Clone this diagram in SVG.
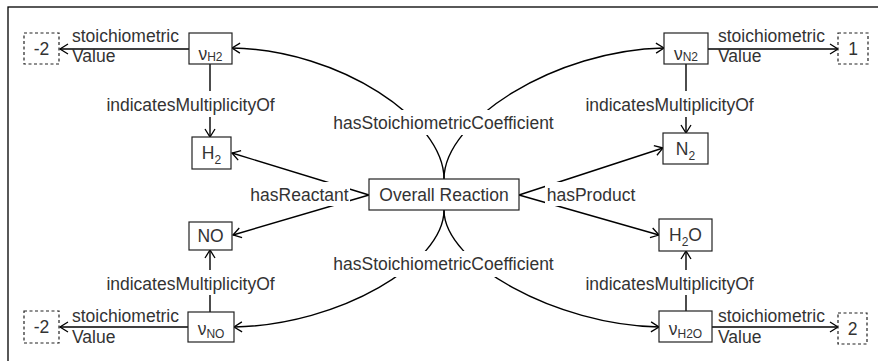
<svg xmlns="http://www.w3.org/2000/svg" width="878" height="361" viewBox="0 0 878 361">
<defs>
<marker id="arr" markerWidth="12" markerHeight="12" viewBox="-10 -6 12 12" refX="0" refY="0" orient="auto" markerUnits="userSpaceOnUse">
<path d="M-8,-5 L0,0 L-8,5" fill="none" stroke="#000" stroke-width="1.3"/>
</marker>
</defs>
<style>
text{font-family:"Liberation Sans",Arial,sans-serif;font-size:17.5px;fill:#333}
.sub{font-size:12px}
.node{fill:#fff;stroke:#222;stroke-width:1.2}
.dash{fill:#fff;stroke:#222;stroke-width:1.2;stroke-dasharray:3 2.5}
.edge{fill:none;stroke:#000;stroke-width:1.4;marker-end:url(#arr)}
.bg{fill:#fff}
.c{text-anchor:middle}
</style>
<rect x="8" y="7" width="900" height="400" fill="#fff" stroke="#000" stroke-width="1.3"/>
<g id="connectors">
<line class="edge" x1="189" y1="49" x2="60" y2="49"/>
<line class="edge" x1="210" y1="64" x2="210" y2="137"/>
<line class="edge" x1="708" y1="49" x2="838" y2="49"/>
<line class="edge" x1="686" y1="64" x2="686" y2="133"/>
<line class="edge" x1="188" y1="327" x2="60" y2="327"/>
<line class="edge" x1="210" y1="312" x2="210" y2="250"/>
<line class="edge" x1="712" y1="327" x2="838" y2="327"/>
<line class="edge" x1="686" y1="311" x2="686" y2="251"/>
<line class="edge" x1="369" y1="195" x2="232" y2="153"/>
<line class="edge" x1="369" y1="195" x2="233" y2="235"/>
<line class="edge" x1="519" y1="195" x2="663" y2="148"/>
<line class="edge" x1="519" y1="195" x2="659" y2="235"/>
<path class="edge" d="M444,179 C444,120 340,50 232,48"/>
<path class="edge" d="M444,179 C444,120 556,50 664,48"/>
<path class="edge" d="M444,210 C444,263 340,325 234,327"/>
<path class="edge" d="M444,210 C444,263 556,325 659,327"/>
<rect class="bg" x="249" y="182" width="101" height="24"/>
<text x="299.5" y="201" class="c">hasReactant</text>
<rect class="bg" x="545" y="182" width="92" height="24"/>
<text x="591" y="201" class="c">hasProduct</text>
<rect class="bg" x="331" y="110" width="225" height="25"/>
<text x="443.5" y="129" class="c">hasStoichiometricCoefficient</text>
<rect class="bg" x="331" y="251" width="225" height="26"/>
<text x="443.5" y="270" class="c">hasStoichiometricCoefficient</text>
<rect class="bg" x="104" y="91" width="173" height="26"/>
<text x="190.5" y="111" class="c">indicatesMultiplicityOf</text>
<rect class="bg" x="581" y="91" width="177" height="26"/>
<text x="669.5" y="111" class="c">indicatesMultiplicityOf</text>
<rect class="bg" x="104" y="270" width="173" height="25"/>
<text x="190.5" y="290" class="c">indicatesMultiplicityOf</text>
<rect class="bg" x="581" y="270" width="177" height="25"/>
<text x="669.5" y="290" class="c">indicatesMultiplicityOf</text>
<text x="72" y="42">stoichiometric</text>
<text x="72" y="62">Value</text>
<text x="718" y="42">stoichiometric</text>
<text x="718" y="62">Value</text>
<text x="72" y="322">stoichiometric</text>
<text x="72" y="343">Value</text>
<text x="718" y="322">stoichiometric</text>
<text x="718" y="343">Value</text>
</g>
<g id="n_overall"><rect class="node" x="369" y="179" width="150" height="31"/><text x="444" y="201" class="c">Overall Reaction</text></g>
<g id="n_vH2"><rect class="node" x="189" y="33" width="43" height="31"/><text x="210.5" y="60" class="c">ν<tspan class="sub" dy="1">H2</tspan></text></g>
<g id="n_vN2"><rect class="node" x="664" y="33" width="44" height="31"/><text x="686" y="60" class="c">ν<tspan class="sub" dy="1">N2</tspan></text></g>
<g id="n_vNO"><rect class="node" x="188" y="312" width="46" height="30"/><text x="211" y="335" class="c">ν<tspan class="sub" dy="3">NO</tspan></text></g>
<g id="n_vH2O"><rect class="node" x="659" y="311" width="53" height="31"/><text x="685.5" y="335" class="c">ν<tspan class="sub" dy="3">H2O</tspan></text></g>
<g id="n_H2"><rect class="node" x="192" y="137" width="39" height="32"/><text x="211.5" y="159" class="c">H<tspan class="sub" dy="5">2</tspan></text></g>
<g id="n_N2"><rect class="node" x="663" y="133" width="45" height="31"/><text x="685.5" y="155" class="c">N<tspan class="sub" dy="5">2</tspan></text></g>
<g id="n_NO"><rect class="node" x="189" y="222" width="43" height="28"/><text x="210.5" y="242" class="c">NO</text></g>
<g id="n_H2O"><rect class="node" x="659" y="219" width="53" height="32"/><text x="685.5" y="241" class="c">H<tspan class="sub" dy="5">2</tspan><tspan dy="-5">O</tspan></text></g>
<g id="n_valH2"><rect class="dash" x="24" y="33" width="35" height="31"/><text x="41.5" y="55" class="c">-2</text></g>
<g id="n_valN2"><rect class="dash" x="838" y="33" width="30" height="31"/><text x="853" y="55" class="c">1</text></g>
<g id="n_valNO"><rect class="dash" x="24" y="311" width="35" height="32"/><text x="41.5" y="333" class="c">-2</text></g>
<g id="n_valH2O"><rect class="dash" x="838" y="313" width="29" height="31"/><text x="852.5" y="335" class="c">2</text></g>
</svg>
